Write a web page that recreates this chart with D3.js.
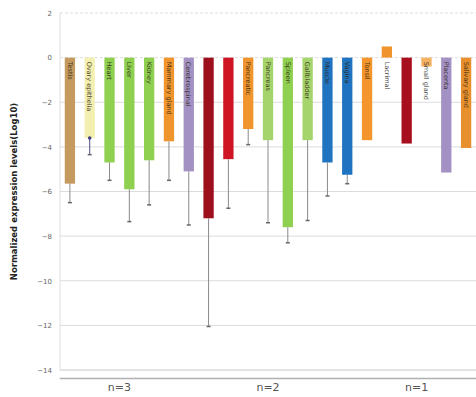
<!DOCTYPE html>
<html><head><meta charset="utf-8">
<script src="https://cdn.jsdelivr.net/npm/d3@7"></script>
<style>body{margin:0;background:#fff}svg{display:block}</style>
</head><body><svg id="c" width="476" height="397"></svg>
<script>
const tissues = ["Testis","Ovary epithelia","Heart","Liver","Kidney","Mammary gland","Cerebrospinal","Brain","Lung","Pancreatic","Pancreas","Spleen","Gallbladder","Muscle","Vagina","Tonsil","Lacrimal","Thyroid","Small gland","Placenta","Salivary gland"];
const values = [-5.65,-3.6,-4.7,-5.9,-4.6,-3.75,-5.1,-7.2,-4.55,-3.2,-3.7,-7.6,-3.7,-4.7,-5.25,-3.7,0.5,-3.85,-0.4,-5.15,-4.05];
const errors = [0.85,0.75,0.8,1.45,2.0,1.75,2.4,4.85,2.2,0.7,3.7,0.7,3.6,1.5,0.4,0,0,0,0,0,0];
const colors = ["#c49a5e","#f3efb0","#8fd050","#8fd050","#8fd050","#f0952e","#a491c4","#9c0f1c","#cf1424","#f0952e","#a6d46c","#8fd050","#a6d46c","#1f73c0","#1f73c0","#f5952e","#f0952e","#a80f1e","#f5b060","#a491c4","#e8902e"];
const showLabel = [1,1,1,1,1,1,1,0,0,1,1,1,1,1,1,1,1,0,1,1,1];
const yTicks = [2,0,-2,-4,-6,-8,-10,-12,-14];
const groups = [{label:"n=3",from:0,to:5},{label:"n=2",from:6,to:14},{label:"n=1",from:15,to:20}];

const svg = d3.select("#c");
const m = {l:60, r:0};
const W = 476;
const x = d3.scaleBand().domain(d3.range(tissues.length)).range([m.l, W - m.r]).paddingInner(0.48).paddingOuter(0.24);
const y = d3.scaleLinear().domain([-14, 2]).range([370, 13]);

// grid
svg.append("g").selectAll("line").data(yTicks).join("line")
  .attr("x1", m.l).attr("x2", W).attr("y1", d=>y(d)).attr("y2", d=>y(d))
  .attr("stroke", d=> d===-14 ? "#c8c8c8" : "#dcdcdc").attr("stroke-width", 1)
  .attr("stroke-dasharray", d => (d===0||d===2) ? "3,2" : null);
svg.append("line").attr("x1", m.l).attr("x2", m.l).attr("y1", y(2)).attr("y2", y(-14)).attr("stroke","#e0e0e0");

// y axis labels
const yAxis = d3.axisLeft(y).tickValues(yTicks).tickSize(0).tickPadding(8);
const ga = svg.append("g").attr("transform",`translate(${m.l},0)`).call(yAxis);
ga.select(".domain").remove();
ga.selectAll("text").attr("font-family","DejaVu Sans, sans-serif").attr("font-size",7).attr("fill","#666");

// bars
svg.append("g").selectAll("rect").data(values).join("rect")
  .attr("x", (d,i)=>x(i)).attr("width", x.bandwidth())
  .attr("y", d=>y(Math.max(0,d))).attr("height", d=>Math.abs(y(d)-y(0)))
  .attr("fill", (d,i)=>colors[i]);

// error bars
const eb = svg.append("g");
values.forEach((v,i)=>{
  if(!errors[i]) return;
  const cx = x(i)+x.bandwidth()/2;
  eb.append("line").attr("x1",cx).attr("x2",cx).attr("y1",y(v)).attr("y2",y(v-errors[i])).attr("stroke", i===1?"#505080":"#8a8a8a").attr("stroke-width",1);
  eb.append("line").attr("x1",cx-2).attr("x2",cx+2).attr("y1",y(v-errors[i])).attr("y2",y(v-errors[i])).attr("stroke","#666").attr("stroke-width",1.5);
  if(i===1) eb.append("circle").attr("cx",cx).attr("cy",y(v)).attr("r",1.8).attr("fill","#404080");
});

// labels inside bars
const labelData = tissues.map((t,i)=>({t,i})).filter(d=>showLabel[d.i]);
svg.append("g").selectAll("text").data(labelData).join("text")
  .attr("transform",d=>`translate(${x(d.i)+x.bandwidth()/2-2.3},${y(0)+4}) rotate(90)`)
  .attr("font-family","DejaVu Sans, sans-serif").attr("font-size",6.5)
  .attr("fill",d=> (d.i===16||d.i===18) ? "#222" : "#2e2410")
  .attr("fill-opacity",0.85)
  .text(d=>d.t);

// y title
svg.append("text").attr("transform",`translate(17,${y(-6)}) rotate(-90)`).attr("text-anchor","middle")
  .attr("font-family","DejaVu Sans, sans-serif").attr("font-size",8.5).attr("font-weight","bold").attr("fill","#222")
  .text("Normalized expression levels(Log10)");

// groups
const gg = svg.append("g");
groups.forEach(g=>{
  const x1 = x(g.from) - 5, x2 = x(g.to)+x.bandwidth()+5;
  gg.append("line").attr("x1",x1).attr("x2",x2).attr("y1",378.5).attr("y2",378.5).attr("stroke","#b0b0b0").attr("stroke-width",1.5);
  gg.append("text").attr("x",(x1+x2)/2).attr("y",391).attr("text-anchor","middle")
    .attr("font-family","DejaVu Sans, sans-serif").attr("font-size",11).attr("fill","#555").text(g.label);
});
</script></body></html>
